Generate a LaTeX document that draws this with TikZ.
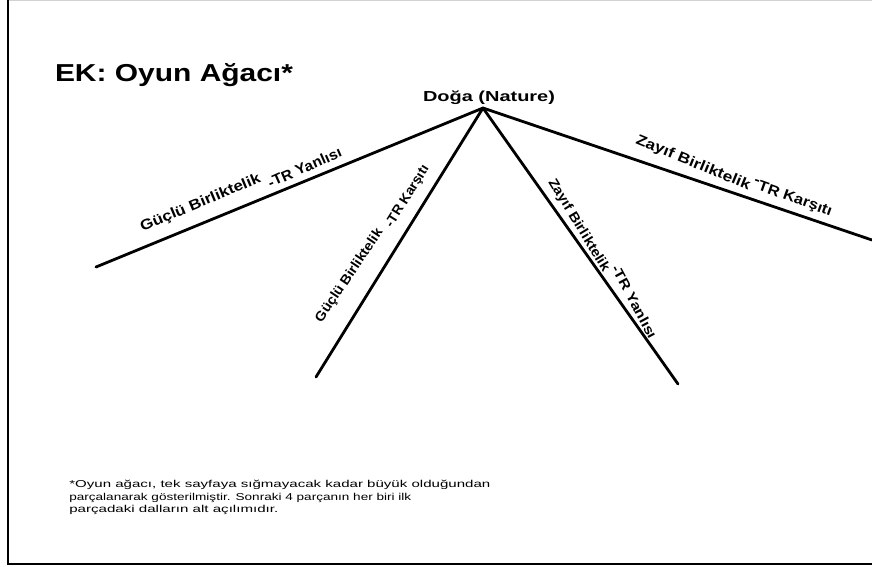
\documentclass[tikz,border=0pt]{standalone}
\usepackage{fontspec}
\setmainfont{Liberation Sans}
\newcommand\fitbox[3]{\resizebox{#1pt}{\height}{\fontsize{#2}{#2}\selectfont #3}}
\begin{document}
\begin{tikzpicture}[x=1pt,y=-1pt,
  branch/.style={line width=2.8pt, line cap=round},
  lbl/.style={anchor=base west, inner sep=0pt, outer sep=0pt},
  frameline/.style={line width=2pt, black},
]
\useasboundingbox (0,0) rectangle (872,566);
% frame
\draw[frameline] (8,0) -- (8,563.5) -- (872,563.5);
\draw[gray!35, line width=1pt] (9,0.5) -- (872,0.5);

% title
\node[lbl] (title) at (55,81.7) {\fitbox{238}{24.5}{\bfseries EK: Oyun Ağacı*}};

% root
\node[lbl] (nature) at (423,101.7) {\fitbox{132}{14.5}{\bfseries Doğa (Nature)}};
\coordinate (root) at (483,108);
\coordinate (e1) at (96,267);
\coordinate (e2) at (316,377);
\coordinate (e3) at (678,384);
\coordinate (e4) at (872,240);

\draw[branch] (root) -- (e1);
\draw[branch] (root) -- (e2);
\draw[branch] (root) -- (e3);
\draw[branch] (root) -- (e4);

% branch labels
\node[lbl, rotate=22.8] (l1a) at (142.7,231.7) {\fitbox{129}{14.5}{\bfseries Güçlü Birliktelik}};
\node[lbl, rotate=23.8] (l1b) at (270.5,188) {\fitbox{79}{14.5}{\bfseries -TR Yanlısı}};

\node[lbl, rotate=56.1] (l2a) at (321.7,323.3) {\fitbox{110}{13.5}{\bfseries Güçlü Birliktelik}};
\node[lbl, rotate=58] (l2b) at (392,228) {\fitbox{70}{13.5}{\bfseries -TR Karşıtı}};

\node[lbl, rotate=-58.7] (l3a) at (548,182) {\fitbox{106}{13.5}{\bfseries Zayıf Birliktelik}};
\node[lbl, rotate=-61.9] (l3b) at (611,268.3) {\fitbox{81}{13.5}{\bfseries -TR Yanlısı}};

\node[lbl, rotate=-22.4] (l4a) at (635,143.3) {\fitbox{122.5}{14.5}{\bfseries Zayıf Birliktelik}};
\node[lbl, rotate=-19.7] (l4b) at (752,188) {\fitbox{83}{14.5}{\bfseries \raisebox{0.3em}{-}TR Karşıtı}};

% footnote
\node[lbl] (fn1) at (69.3,487.3) {\fitbox{421}{10}{*Oyun ağacı, tek sayfaya sığmayacak kadar büyük olduğundan}};
\node[lbl] (fn2) at (69.3,500) {\fitbox{342}{10}{parçalanarak gösterilmiştir. Sonraki 4 parçanın her biri ilk}};
\node[lbl] (fn3) at (69.3,512.7) {\fitbox{209}{10}{parçadaki dalların alt açılımıdır.}};
\end{tikzpicture}
\end{document}
